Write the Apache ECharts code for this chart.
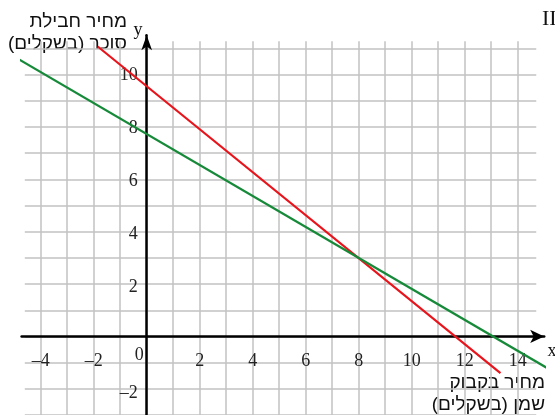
<!DOCTYPE html>
<html>
<head>
<meta charset="utf-8">
<script src="https://cdn.jsdelivr.net/npm/echarts@6/dist/echarts.min.js"></script>
<style>
  html, body { margin: 0; padding: 0; background: #fff; }
  #chart { width: 555px; height: 415px; }
</style>
</head>
<body>
<div id="chart"></div>
<script>
// 数据
const redX = [-1.85, 13.35]
const redY = [11.07, -1.4]
const greenX = [-5.2, 15.1]
const greenY = [10.8, -1.2]
const xTicks = [-4, -2, 2, 4, 6, 8, 10, 12, 14]
const yTicks = [-2, 2, 4, 6, 8, 10]

// 像素比例
const S = 26.5
const OX = 146.7
const OY = 340

const box = (xr, yr) => ({
  left: OX + xr[0] * S,
  top: OY - yr[1] * S,
  width: (xr[1] - xr[0]) * S,
  height: (yr[1] - yr[0]) * S,
})

const fmt = (list) => (v) => (list.includes(v) ? String(v).replace("-", "\u2013") : "")

const gridColor = "#c2c2c2"
const serif = "Liberation Serif"
const sans = "Liberation Sans"

const hidden = { show: false }

const option = {
  animation: false,
  backgroundColor: "#fff",
  grid: [
    box([-4.6, 14.7], [-3, 11]), // 0 横向网格
    box([-4, 14], [-2.9, 11.27]), // 1 纵向网格
    box([-4.72, 15], [-3, 11.5]), // 2 坐标轴 + 线
    box([-4, 14], [0, 11]), // 3 x 标签
    box([0, 14], [-2, 10]), // 4 y 标签
  ],
  xAxis: [
    { gridIndex: 0, type: "value", min: -4.6, max: 14.7, show: false },
    {
      gridIndex: 1, type: "value", min: -4, max: 14, interval: 1, z: 0,
      axisLine: hidden, axisTick: hidden, axisLabel: hidden,
      splitLine: { show: true, lineStyle: { color: gridColor, width: 1.5 } },
    },
    {
      gridIndex: 2, type: "value", min: -4.72, max: 15, z: 3,
      axisLine: {
        show: true, onZero: true, symbol: ["none", "arrow"], symbolSize: [10, 14],
        lineStyle: { color: "#000", width: 2.5 },
      },
      axisTick: hidden, axisLabel: hidden, splitLine: hidden,
    },
    {
      gridIndex: 3, type: "value", min: -4, max: 14, interval: 2, position: "bottom", z: 1,
      axisLine: hidden, axisTick: hidden, splitLine: hidden,
      axisLabel: {
        show: true, margin: 12, formatter: fmt(xTicks),
        color: "#222", fontFamily: serif, fontSize: 18,
      },
    },
    { gridIndex: 4, type: "value", min: 0, max: 14, show: false },
  ],
  yAxis: [
    {
      gridIndex: 0, type: "value", min: -3, max: 11, interval: 1, z: 0,
      axisLine: hidden, axisTick: hidden, axisLabel: hidden,
      splitLine: { show: true, lineStyle: { color: gridColor, width: 1.5 } },
    },
    { gridIndex: 1, type: "value", min: -2.9, max: 11.27, show: false },
    {
      gridIndex: 2, type: "value", min: -3, max: 11.5, z: 3,
      axisLine: {
        show: true, onZero: true, symbol: ["none", "arrow"], symbolSize: [8, 15],
        lineStyle: { color: "#000", width: 2.5 },
      },
      axisTick: hidden, axisLabel: hidden, splitLine: hidden,
    },
    { gridIndex: 3, type: "value", min: 0, max: 11, show: false },
    {
      gridIndex: 4, type: "value", min: -2, max: 10, interval: 2, position: "left", z: 1,
      axisLine: hidden, axisTick: hidden, splitLine: hidden,
      axisLabel: {
        show: true, margin: 9, formatter: fmt(yTicks),
        color: "#222", fontFamily: serif, fontSize: 18,
      },
    },
  ],
  series: [
    {
      type: "line", xAxisIndex: 2, yAxisIndex: 2, clip: false, symbol: "none", z: 4,
      data: redX.map((x, i) => [x, redY[i]]),
      lineStyle: { color: "#e8141c", width: 2.2 },
    },
    {
      type: "line", xAxisIndex: 2, yAxisIndex: 2, clip: false, symbol: "none", z: 4,
      data: greenX.map((x, i) => [x, greenY[i]]),
      lineStyle: { color: "#178a3a", width: 2.2 },
    },
  ],
  graphic: [
    { type: "text", x: 127, y: 22, style: { text: "\u200Fמחיר חבילת\u200F", align: "right", verticalAlign: "middle", font: `19px "${sans}"`, fill: "#111" } },
    { type: "text", x: 127, y: 44, style: { text: "\u200Fסוכר (בשקלים)\u200F", align: "right", verticalAlign: "middle", font: `19px "${sans}"`, fill: "#111" } },
    { type: "text", x: 545, y: 383, style: { text: "\u200Fמחיר בקבוק\u200F", align: "right", verticalAlign: "middle", font: `19px "${sans}"`, fill: "#111" } },
    { type: "text", x: 545, y: 405, style: { text: "\u200Fשמן (בשקלים)\u200F", align: "right", verticalAlign: "middle", font: `19px "${sans}"`, fill: "#111" } },
    { type: "text", x: 138, y: 30, style: { text: "y", align: "center", verticalAlign: "middle", font: `18px "${serif}"`, fill: "#111" } },
    { type: "text", x: 552, y: 351, style: { text: "x", align: "center", verticalAlign: "middle", font: `18px "${serif}"`, fill: "#111" } },
    { type: "text", x: 139.3, y: 355, style: { text: "0", align: "center", verticalAlign: "middle", font: `18px "${serif}"`, fill: "#222" } },
    { type: "text", x: 542, y: 19, style: { text: "II", align: "left", verticalAlign: "middle", font: `22px "${serif}"`, fill: "#111" } },
  ],
}

const myChart = echarts.init(document.getElementById("chart"))
myChart.setOption(option)
</script>
</body>
</html>
